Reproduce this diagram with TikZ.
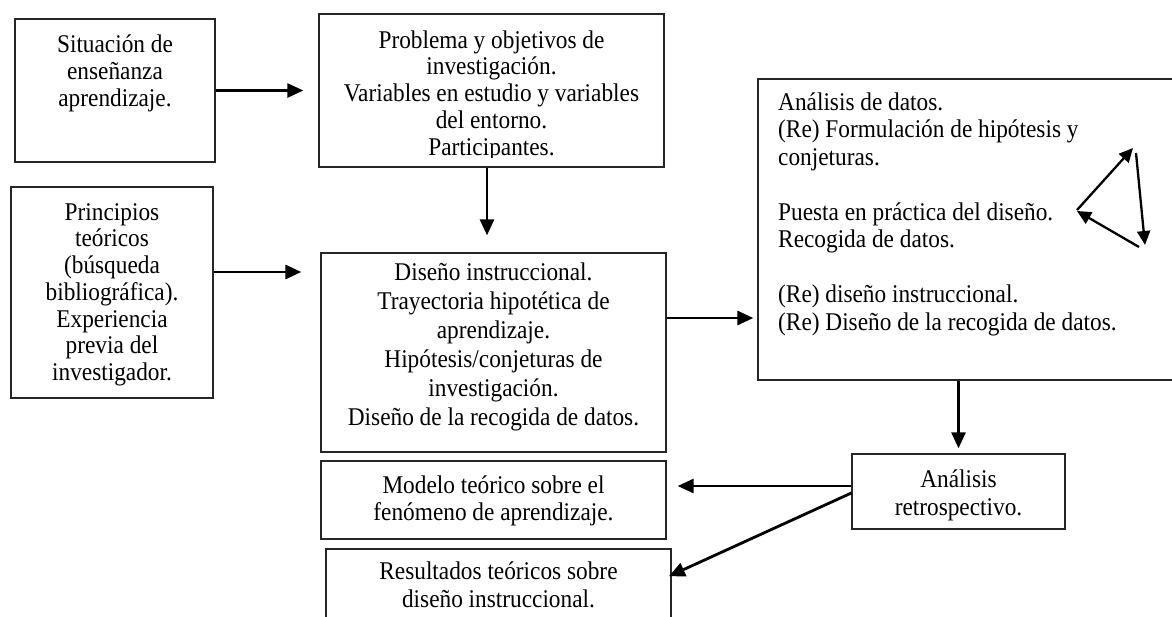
\documentclass[tikz,border=0pt]{standalone}
\usepackage{fontspec}
\setmainfont{Liberation Serif}[FakeStretch=0.914]
\usetikzlibrary{arrows.meta}
\newcommand{\st}{\rule{0pt}{24pt}}
\begin{document}
\begin{tikzpicture}[x=1pt,y=-1pt,
  box/.style={draw=black!85, line width=1.3pt, inner sep=0pt, rectangle},
  txt/.style={inner sep=0pt, anchor=north, align=center},
  arr/.style={line width=2.8pt, -{Triangle[length=16pt,width=14pt]}},
  sarr/.style={line width=2.3pt, -{Triangle[length=14pt,width=13pt]}},
]
\useasboundingbox[fill=white] (0,0) rectangle (1172,616);

% boxes
\node[box, minimum width=200pt, minimum height=143pt] (A) at (115,90.5) {};
\node[box, minimum width=345pt, minimum height=153pt] (B) at (491.5,90.5) {};
\node[box, minimum width=202pt, minimum height=211pt] (C) at (112,292.5) {};
\node[box, minimum width=345pt, minimum height=199pt] (D) at (493.5,352.5) {};
\node[box, minimum width=422pt, minimum height=301pt] (E) at (969,229.5) {};
\node[box, minimum width=213pt, minimum height=75pt] (F) at (958.5,491.5) {};
\node[box, minimum width=345pt, minimum height=78pt] (G) at (493.5,500) {};
\node[box, minimum width=345pt, minimum height=81pt] (H) at (498.5,589.5) {};

% texts
\node[txt, font={\fontsize{25.5}{27}\selectfont}] (At) at (115,28)
  {\st Situación de\\enseñanza\\aprendizaje.};
\begin{scope}
  \clip (B.north west) rectangle ([yshift=10pt]B.south east);
  \node[txt, font={\fontsize{25.5}{26.75}\selectfont}] (Bt) at (491.5,24)
    {\st Problema y objetivos de\\investigación.\\Variables en estudio y variables\\del entorno.\\Participantes.};
\end{scope}
\begin{scope}
  \clip (C.north west) rectangle ([yshift=11pt]C.south east);
  \node[txt, font={\fontsize{25.5}{26.75}\selectfont}] (Ct) at (112,196)
    {\st Principios\\teóricos\\(búsqueda\\bibliográfica).\\Experiencia\\previa del\\investigador.};
\end{scope}
\node[txt, font={\fontsize{25.5}{29}\selectfont}] (Dt) at (493.5,256)
  {\st Diseño instruccional.\\Trayectoria hipotética de\\aprendizaje.\\Hipótesis/conjeturas de\\investigación.\\Diseño de la recogida de datos.};
\node[inner sep=0pt, anchor=north west, align=left, font={\fontsize{25.5}{27.5}\selectfont}] (Et) at (778,86)
  {\st Análisis de datos.\\(Re) Formulación de hipótesis y\\conjeturas.\\ \\Puesta en práctica del diseño.\\Recogida de datos.\\ \\(Re) diseño instruccional.\\(Re) Diseño de la recogida de datos.};
\node[txt, font={\fontsize{25.5}{28}\selectfont}] (Ft) at (958.5,463)
  {\st Análisis\\retrospectivo.};
\node[txt, font={\fontsize{25.5}{27}\selectfont}] (Gt) at (493.5,469)
  {\st Modelo teórico sobre el\\fenómeno de aprendizaje.};
\node[txt, font={\fontsize{25.5}{28}\selectfont}] (Ht) at (498.5,555)
  {\st Resultados teóricos sobre\\diseño instruccional.};

% connectors
\draw[arr, shorten >=15pt] (A.east) -- (B.west);
\draw[arr, shorten >=19pt] ([yshift=20.5pt]C.east) -- ([yshift=20.5pt]C.east -| D.west);
\draw[arr, shorten >=17pt] ([xshift=-4.5pt]B.south) -- ([xshift=-4.5pt]B.south |- D.north);
\draw[arr, shorten >=4pt] ([yshift=34.5pt]D.east) -- ([yshift=34.5pt]D.east -| E.west);
\draw[arr, shorten >=5pt] (F.north |- E.south) -- (F.north);
\draw[arr, shorten >=11pt] ([yshift=5.5pt]F.west) -- ([yshift=5.5pt]F.west -| G.east);
\draw[arr, shorten >=-3pt] ([yshift=-1.5pt]F.west) -- ([yshift=14.5pt]H.east);

% cycle inside E
\coordinate (c1) at (1077,210);
\coordinate (c2) at (1133,148);
\coordinate (c3) at (1136,153);
\coordinate (c4) at (1145,245);
\coordinate (c5) at (1139,247);
\coordinate (c6) at (1077,211);
\draw[sarr] (c1) -- (c2);
\draw[sarr] (c3) -- (c4);
\draw[sarr] (c5) -- (c6);
\end{tikzpicture}
\end{document}
